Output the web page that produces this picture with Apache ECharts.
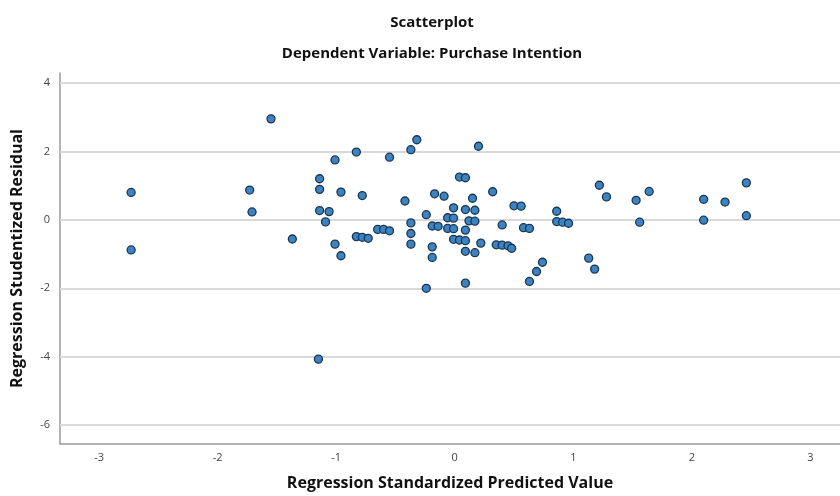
<!DOCTYPE html>
<html>
<head>
<meta charset="utf-8">
<script src="https://cdn.jsdelivr.net/npm/echarts@6/dist/echarts.min.js"></script>
<style>
  html, body { margin: 0; padding: 0; background: #fff; }
  #chart { width: 840px; height: 496px; }
</style>
</head>
<body>
<div id="chart"></div>
<script>
// Regression standardized predicted values (x) and studentized residuals (y)
const predicted = [
  -2.73, -2.73, -1.73, -1.71, -1.55, -1.37, -1.15,
  -1.14, -1.14, -1.14, -1.06, -1.09, -1.01, -1.01, -0.96, -0.96,
  -0.83, -0.78, -0.83, -0.78, -0.73, -0.65, -0.60, -0.55, -0.55,
  -0.42, -0.37, -0.32, -0.37, -0.37, -0.37, -0.24, -0.24, -0.17,
  -0.09, -0.19, -0.14, -0.19, -0.19, -0.06, -0.01, -0.06, -0.01,
  -0.01, -0.01, 0.04, 0.09, 0.04, 0.09, 0.15, 0.09, 0.17, 0.12,
  0.17, 0.09, 0.09, 0.17, 0.09, 0.20, 0.22, 0.32, 0.40, 0.50,
  0.56, 0.35, 0.40, 0.45, 0.48, 0.58, 0.63, 0.74, 0.69, 0.63,
  0.86, 0.86, 0.91, 0.96, 1.13, 1.18, 1.22, 1.28, 1.53, 1.64,
  1.56, 2.10, 2.10, 2.28, 2.46, 2.46
];
const residuals = [
  0.80, -0.88, 0.87, 0.23, 2.95, -0.56, -4.07,
  1.20, 0.89, 0.27, 0.24, -0.06, 1.75, -0.71, -1.05, 0.81,
  1.98, 0.71, -0.49, -0.51, -0.54, -0.28, -0.28, -0.32, 1.83,
  0.55, 2.05, 2.34, -0.09, -0.40, -0.71, 0.15, -2.00, 0.76,
  0.69, -0.18, -0.19, -0.79, -1.10, 0.06, 0.05, -0.25, -0.26,
  0.35, -0.57, -0.59, -0.61, 1.25, 1.23, 0.63, 0.30, 0.28, -0.03,
  -0.04, -0.30, -0.92, -0.96, -1.85, 2.15, -0.68, 0.82, -0.15, 0.41,
  0.40, -0.73, -0.74, -0.76, -0.83, -0.23, -0.25, -1.24, -1.51, -1.80,
  0.25, -0.05, -0.07, -0.10, -1.12, -1.44, 1.01, 0.67, 0.57, 0.83,
  -0.07, 0.60, -0.01, 0.52, 1.08, 0.12
];
const xTicks = [-3, -2, -1, 0, 1, 2, 3];
const yTicks = [-6, -4, -2, 0, 2, 4];

const points = predicted.map((x, i) => [x, residuals[i]]);
const labelFont = '"Open Sans", "Liberation Sans", sans-serif';

const chart = echarts.init(document.getElementById('chart'), null, { renderer: 'canvas' });
chart.setOption({
  animation: false,
  backgroundColor: '#ffffff',
  title: [
    {
      text: 'Scatterplot',
      left: 427, top: 10, textAlign: 'center',
      textStyle: { fontFamily: labelFont, fontSize: 15, fontWeight: 'bold', color: '#111' }
    },
    {
      text: 'Dependent Variable: Purchase Intention',
      left: 427, top: 41, textAlign: 'center',
      textStyle: { fontFamily: labelFont, fontSize: 15, fontWeight: 'bold', color: '#111' }
    }
  ],
  grid: { left: 60, right: 0, top: 73, bottom: 50, containLabel: false },
  xAxis: {
    type: 'value',
    min: -3.33, max: 3.25,
    name: 'Regression Standardized Predicted Value',
    nameLocation: 'middle',
    nameGap: 31,
    nameTextStyle: { fontFamily: labelFont, fontSize: 16, fontWeight: 'bold', color: '#111' },
    axisLine: { show: true, onZero: false, lineStyle: { color: '#9a9a9a', width: 1.5 } },
    axisTick: { show: false },
    splitLine: { show: false },
    axisLabel: {
      customValues: xTicks,
      margin: 8,
      fontFamily: labelFont, fontSize: 11, color: '#444'
    }
  },
  yAxis: {
    type: 'value',
    min: -6.55, max: 4.29,
    name: 'Regression Studentized Residual',
    nameLocation: 'middle',
    nameGap: 35,
    nameTextStyle: { fontFamily: labelFont, fontSize: 16, fontWeight: 'bold', color: '#111' },
    axisLine: { show: true, onZero: false, lineStyle: { color: '#9a9a9a', width: 1.5 } },
    axisTick: { show: false },
    splitLine: { show: false },
    axisLabel: {
      customValues: yTicks,
      margin: 10,
      fontFamily: labelFont, fontSize: 11, color: '#444'
    }
  },
  series: [
    {
      // horizontal reference lines at the labelled residual values
      type: 'line',
      data: [],
      silent: true,
      markLine: {
        silent: true,
        symbol: 'none',
        label: { show: false },
        lineStyle: { type: 'solid', color: '#d9d9d9', width: 2 },
        data: yTicks.map(v => ({ yAxis: v }))
      }
    },
    {
      type: 'scatter',
      z: 10,
      data: points,
      symbol: 'circle',
      symbolSize: 8,
      itemStyle: { color: '#3a84c4', borderColor: '#1b3550', borderWidth: 1.3, opacity: 1 }
    }
  ]
});
</script>
</body>
</html>
